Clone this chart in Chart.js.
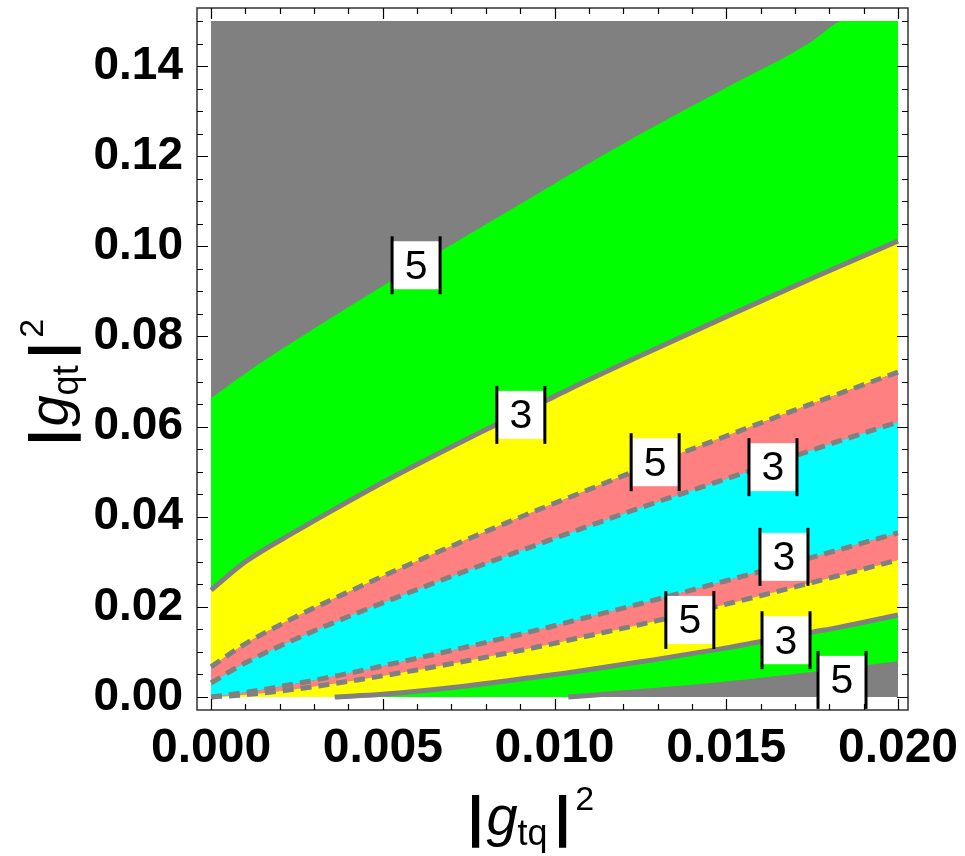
<!DOCTYPE html>
<html>
<head>
<meta charset="utf-8">
<script src="https://cdn.jsdelivr.net/npm/chart.js@4.4.0/dist/chart.umd.min.js"></script>
<style>
  html, body { margin: 0; padding: 0; background: #fff; }
  #wrap { width: 965px; height: 856px; }
</style>
</head>
<body>
<div id="wrap"><canvas id="chart"></canvas></div>
<script>
// sample positions along |g_tq|^2 shared by every contour
const xs = [0, 0.001, 0.0025, 0.0036, 0.005, 0.0075, 0.01, 0.0104, 0.0125, 0.015, 0.0175, 0.01825, 0.02];

// contour boundaries (|g_qt|^2), bottom to top
const curveH  = [0, 0, 0, 0, 0, 0, 0, 0, 0.0012, 0.0029, 0.0050, 0.0057, 0.0074];          // 5, solid
const curveG  = [0, 0, 0, 0, 0.0006, 0.0025, 0.0050, 0.0054, 0.0078, 0.0109, 0.0144, 0.0154, 0.0182]; // 3, solid
const curveF  = [0, 0.0005, 0.0018, 0.0030, 0.0047, 0.0081, 0.0119, 0.0126, 0.0161, 0.0206, 0.0254, 0.0269, 0.0304]; // 5, dashed
const curveE  = [0, 0.0010, 0.0030, 0.0046, 0.0069, 0.0112, 0.0158, 0.0166, 0.0207, 0.0258, 0.0310, 0.0326, 0.0364]; // 3, dashed
const curveD  = [0.0031, 0.0076, 0.0130, 0.0166, 0.0209, 0.0282, 0.0352, 0.0363, 0.0420, 0.0484, 0.0548, 0.0567, 0.0610]; // 3, dashed
const curveC  = [0.0067, 0.0118, 0.0179, 0.0219, 0.0268, 0.0351, 0.0430, 0.0442, 0.0506, 0.0579, 0.0651, 0.0672, 0.0721]; // 5, dashed
const curveB  = [0.0237, 0.0300, 0.0369, 0.0417, 0.0476, 0.0574, 0.0667, 0.0682, 0.0757, 0.0844, 0.0929, 0.0954, 0.1012]; // 3, solid
const curveA  = [0.0663, 0.0718, 0.0793, 0.0846, 0.0912, 0.1026, 0.1139, 0.1157, 0.1249, 0.1352, 0.1455, 0.1497, 0.1540]; // 5

// contour labels
const labelText = ['5', '3', '5', '3', '3', '5', '3', '5'];
const labelX = [0.00597, 0.00902, 0.01293, 0.01636, 0.01668, 0.01394, 0.01674, 0.01837];
const labelY = [0.0958, 0.0626, 0.0521, 0.0510, 0.0311, 0.0171, 0.0126, 0.0038];

const xTicks = [0, 0.005, 0.01, 0.015, 0.02];
const yTicks = [0, 0.02, 0.04, 0.06, 0.08, 0.10, 0.12, 0.14];

const GRAY = '#808080', GREEN = '#00ff00', YELLOW = '#ffff00', PINK = '#ff8080', CYAN = '#00ffff';
const NONE = 'rgba(0,0,0,0)';
const FONT = '"Liberation Sans", Arial, Helvetica, sans-serif';

function series(ys) {
  return xs.map((v, i) => ({ x: v, y: ys[i] }));
}

// drop the flat zero run before a contour leaves the axis
function fromAxis(ys) {
  const pts = series(ys);
  return pts.filter((p, i) => p.y > 0 || (i + 1 < pts.length && pts[i + 1].y > 0));
}

function band(ys, color, edge) {
  return {
    data: series(ys),
    fill: color ? '-1' : false,
    backgroundColor: color || NONE,
    borderColor: edge ? GRAY : NONE,
    borderWidth: edge ? 5 : 1,
    borderDash: edge === 'dash' ? [11, 7] : []
  };
}

function edgeLine(ys) {
  return { data: fromAxis(ys), fill: false, borderColor: GRAY, borderWidth: 5 };
}

function drawRich(ctx, parts, cx, baseY) {
  let total = 0;
  parts.forEach(p => { ctx.font = p.f; total += ctx.measureText(p.t).width + (p.gap || 0); });
  let px = cx - total / 2;
  ctx.textAlign = 'left';
  ctx.textBaseline = 'alphabetic';
  parts.forEach(p => {
    ctx.font = p.f;
    ctx.fillText(p.t, px, baseY + (p.dy || 0));
    px += ctx.measureText(p.t).width + (p.gap || 0);
  });
}

function titleParts(sub) {
  return [
    { t: '|', f: 'bold 56px ' + FONT, gap: 3 },
    { t: 'g', f: 'italic 56px ' + FONT },
    { t: sub, f: '36px ' + FONT, dy: 10, gap: 7 },
    { t: '|', f: 'bold 56px ' + FONT, gap: 5 },
    { t: '2', f: '34px ' + FONT, dy: -25 }
  ];
}

const decor = {
  id: 'decor',
  beforeDraw(chart) {
    // outermost contour level is grey: paint the plotted region first
    const { ctx, scales: { x, y } } = chart;
    const l = x.getPixelForValue(0), r = x.getPixelForValue(0.02);
    const t = y.getPixelForValue(0.15), b = y.getPixelForValue(0);
    ctx.save();
    ctx.fillStyle = GRAY;
    ctx.fillRect(l, t, r - l, b - t);
    ctx.restore();
  },
  afterDatasetsDraw(chart) {
    // keep the white margin above the plot range
    const { ctx, chartArea: a, scales: { y } } = chart;
    ctx.save();
    ctx.fillStyle = '#fff';
    ctx.fillRect(a.left, a.top, a.right - a.left, y.getPixelForValue(0.15) - a.top);
    ctx.restore();
  },
  afterDraw(chart) {
    const { ctx, chartArea: a, scales: { x, y } } = chart;
    ctx.save();

    // contour labels
    labelText.forEach((t, i) => {
      const cx = x.getPixelForValue(labelX[i]);
      const cy = y.getPixelForValue(labelY[i]);
      const w = 48, h = 48, bh = 58;
      ctx.fillStyle = '#fff';
      ctx.fillRect(cx - w / 2, cy - h / 2, w, h);
      ctx.fillStyle = '#000';
      ctx.fillRect(cx - w / 2 - 1.5, cy - bh / 2, 3, bh);
      ctx.fillRect(cx + w / 2 - 1.5, cy - bh / 2, 3, bh);
      ctx.font = '41px ' + FONT;
      ctx.textAlign = 'center';
      ctx.textBaseline = 'middle';
      ctx.fillText(t, cx, cy + 2);
    });

    // frame with inward ticks
    ctx.strokeStyle = '#333';
    ctx.lineWidth = 1.5;
    ctx.strokeRect(a.left, a.top, a.right - a.left, a.bottom - a.top);
    ctx.lineWidth = 1.2;
    ctx.strokeStyle = '#000';
    ctx.beginPath();
    for (let i = 0; i <= 20; i++) {
      const px = Math.round(x.getPixelForValue(i * 0.001)) + 0.5;
      const len = i % 5 === 0 ? 11 : 6;
      ctx.moveTo(px, a.bottom); ctx.lineTo(px, a.bottom - len);
      ctx.moveTo(px, a.top); ctx.lineTo(px, a.top + len);
    }
    for (let i = 0; i <= 30; i++) {
      const py = Math.round(y.getPixelForValue(i * 0.005)) + 0.5;
      const len = i % 4 === 0 ? 11 : 6;
      ctx.moveTo(a.left, py); ctx.lineTo(a.left + len, py);
      ctx.moveTo(a.right, py); ctx.lineTo(a.right - len, py);
    }
    ctx.stroke();

    // axis titles
    ctx.fillStyle = '#000';
    drawRich(ctx, titleParts('tq'), 531, 835);
    ctx.translate(68, 382);
    ctx.rotate(-Math.PI / 2);
    drawRich(ctx, titleParts('qt'), 0, 0);
    ctx.restore();
  }
};

new Chart(document.getElementById('chart'), {
  type: 'line',
  data: {
    datasets: [
      band(curveH, null, null),
      band(curveG, GREEN, null),
      band(curveF, YELLOW, 'dash'),
      band(curveE, PINK, 'dash'),
      band(curveD, CYAN, 'dash'),
      band(curveC, PINK, 'dash'),
      band(curveB, YELLOW, 'solid'),
      band(curveA, GREEN, null),
      edgeLine(curveG),
      edgeLine(curveH)
    ]
  },
  options: {
    responsive: true,
    maintainAspectRatio: false,
    animation: false,
    layout: { padding: { top: 8, right: 57, left: 0, bottom: 0 } },
    elements: {
      point: { radius: 0 },
      line: { cubicInterpolationMode: 'monotone', borderCapStyle: 'butt' }
    },
    plugins: {
      legend: { display: false },
      tooltip: { enabled: false },
      filler: { drawTime: 'beforeDatasetsDraw' }
    },
    scales: {
      x: {
        type: 'linear',
        min: -0.000408,
        max: 0.020291,
        grid: { display: false, drawTicks: false },
        border: { display: false },
        afterBuildTicks: s => { s.ticks = xTicks.map(v => ({ value: v })); },
        afterFit: s => { s.height = 146; s.paddingLeft = 0; s.paddingRight = 0; },
        ticks: {
          color: '#000',
          padding: 10,
          maxRotation: 0,
          autoSkip: false,
          font: { family: FONT, size: 48, weight: 'bold' },
          callback: v => Number(v).toFixed(3)
        }
      },
      y: {
        type: 'linear',
        min: -0.002885,
        max: 0.152885,
        grid: { display: false, drawTicks: false },
        border: { display: false },
        afterBuildTicks: s => { s.ticks = yTicks.map(v => ({ value: v })); },
        afterFit: s => { s.width = 197; s.paddingTop = 0; s.paddingBottom = 0; },
        ticks: {
          color: '#000',
          padding: 14,
          autoSkip: false,
          font: { family: FONT, size: 46, weight: 'bold' },
          callback: v => Number(v).toFixed(2)
        }
      }
    }
  },
  plugins: [decor]
});
</script>
</body>
</html>
